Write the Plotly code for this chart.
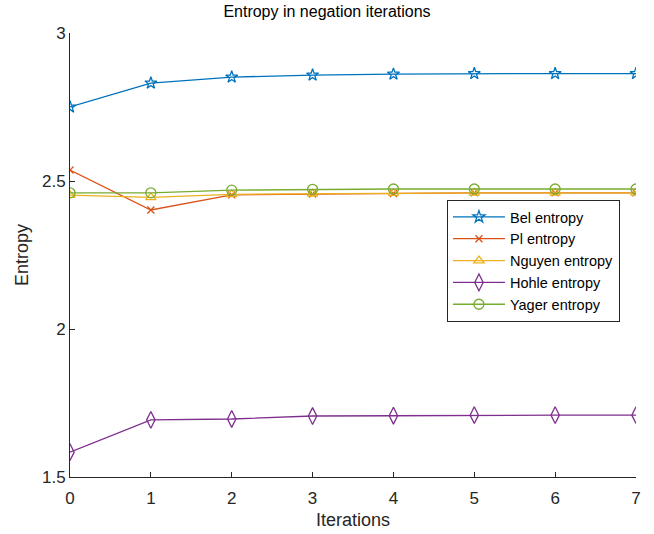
import plotly.graph_objects as go

iterations = [0, 1, 2, 3, 4, 5, 6, 7]
bel_entropy = [2.750, 2.831, 2.851, 2.858, 2.861, 2.863, 2.863, 2.863]
pl_entropy = [2.537, 2.402, 2.453, 2.456, 2.458, 2.460, 2.460, 2.460]
nguyen_entropy = [2.452, 2.445, 2.455, 2.457, 2.459, 2.460, 2.460, 2.460]
hohle_entropy = [1.584, 1.693, 1.696, 1.706, 1.707, 1.709, 1.709, 1.709]
yager_entropy = [2.460, 2.460, 2.469, 2.472, 2.473, 2.473, 2.473, 2.473]
y_ticks = [1.5, 2, 2.5, 3]
y_tick_labels = ["1.5", "2", "2.5", "3"]

series = [
    ("Bel entropy", bel_entropy, "#0072BD", "star-open", 9),
    ("Pl entropy", pl_entropy, "#D95319", "x-thin-open", 7),
    ("Nguyen entropy", nguyen_entropy, "#EDB120", "triangle-up-open", 9),
    ("Hohle entropy", hohle_entropy, "#7E2F8E", "diamond-tall-open", 12),
    ("Yager entropy", yager_entropy, "#77AC30", "circle-open", 10),
]

fig = go.Figure()
for name, vals, color, symbol, size in series:
    fig.add_trace(go.Scatter(
        x=iterations, y=vals, name=name, mode="lines+markers",
        line=dict(color=color, width=1.3),
        marker=dict(symbol=symbol, size=size, color=color,
                    line=dict(color=color, width=1.3)),
    ))

family = "Liberation Sans, Arial, sans-serif"
tick_font = dict(family=family, size=17, color="#262626")
title_font = dict(family=family, size=18, color="#262626")

fig.update_layout(
    width=654, height=534,
    margin=dict(l=70, r=18, t=33, b=57),
    paper_bgcolor="white", plot_bgcolor="white",
    font=tick_font,
    title=dict(text="Entropy in negation iterations", x=0.5, xanchor="center",
               y=0.978, yanchor="middle",
               font=dict(family=family, size=16, color="#000000")),
    xaxis=dict(range=[0, 7], tickvals=iterations, ticks="inside", ticklen=5,
               tickcolor="#262626", showline=True, linecolor="#262626", linewidth=1,
               showgrid=False, zeroline=False, tickfont=tick_font,
               ticklabelstandoff=6, automargin=False,
               title=dict(text="Iterations", standoff=5, font=title_font)),
    yaxis=dict(range=[1.5, 3], tickvals=y_ticks, ticktext=y_tick_labels,
               ticks="inside", ticklen=5, tickfont=tick_font,
               tickcolor="#262626", showline=True, linecolor="#262626", linewidth=1,
               showgrid=False, zeroline=False, automargin=False,
               title=dict(text="Entropy", standoff=8, font=title_font)),
    legend=dict(x=0.666, y=0.624, xanchor="left", yanchor="top",
                bgcolor="white", bordercolor="#262626", borderwidth=1,
                font=dict(family=family, size=14.5, color="#000000"),
                tracegroupgap=0, itemwidth=52),
)

fig.write_html("out.html")
